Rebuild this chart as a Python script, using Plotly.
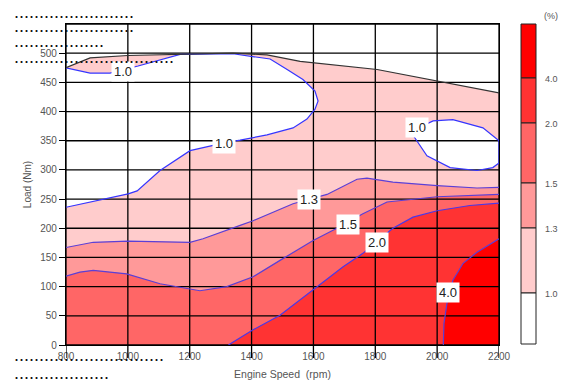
import plotly.graph_objects as go

# ---------------- data ----------------
rpm_ticks = [800, 1000, 1200, 1400, 1600, 1800, 2000, 2200]
load_ticks = [0, 50, 100, 150, 200, 250, 300, 350, 400, 450, 500]
load_top = 550

# maximum torque curve (upper limit of the map)
max_rpm = [800, 878, 1000, 1191, 1340, 1450, 1557, 1806, 2000, 2200]
max_load = [475, 492, 496, 498, 500, 497, 486, 472, 452, 432]

# 1.0 % contour – large closed island (upper-left)
c10a_rpm = [800, 888, 1001, 1030, 1104, 1201, 1308, 1363, 1450, 1534, 1579, 1605, 1615, 1605,
            1566, 1515, 1460, 1340, 1169, 1033, 942, 878, 800]
c10a_load = [236, 246, 259, 264, 299, 333, 346, 351, 360, 372, 387, 404, 418, 435,
             455, 472, 490, 499, 498, 478, 466, 466, 475]

# 1.0 % contour – island at the right edge
c10b_rpm = [1919, 1987, 2051, 2148, 2200, 2200, 2180, 2129, 2042, 1967, 1919]
c10b_load = [367, 384, 386, 372, 350, 312, 304, 299, 304, 324, 362]

# 1.3 % contour
c13_rpm = [800, 888, 1001, 1104, 1201, 1243, 1298, 1363, 1405, 1469, 1534, 1644, 1708, 1741,
           1773, 1806, 1857, 2000, 2129, 2200]
c13_load = [167, 176, 178, 177, 176, 182, 192, 205, 213, 227, 242, 258, 276, 284,
            286, 283, 279, 273, 269, 270]

# 1.5 % contour
c15_rpm = [800, 845, 888, 996, 1104, 1233, 1320, 1405, 1492, 1599, 1676, 1760, 1838, 2000, 2200]
c15_load = [118, 125, 128, 122, 105, 93, 100, 117, 145, 179, 200, 225, 245, 254, 258]

# 2.0 % contour
c20_rpm = [1325, 1405, 1492, 1599, 1696, 1760, 1857, 1922, 2000, 2106, 2200]
c20_load = [0, 26, 51, 94, 134, 157, 200, 219, 230, 239, 243]

# 4.0 % contour
c40_rpm = [2020, 2022, 2032, 2051, 2084, 2129, 2200]
c40_load = [0, 37, 72, 111, 140, 159, 182]

levels = ["1.0", "1.3", "1.5", "2.0", "4.0"]
level_colors = ["#ffffff", "#ffcccc", "#ff9999", "#ff6666", "#ff3333", "#ff0000"]

# contour label positions (rpm, load, text)
label_rpm = [984, 1311, 1935, 1586, 1712, 1805, 2035]
label_load = [469, 346, 372, 249, 206, 176, 90]
label_text = ["1.0", "1.0", "1.0", "1.3", "1.5", "2.0", "4.0"]

# ---------------- figure ----------------
fig = go.Figure()


def fill(xs, ys, color):
    fig.add_trace(go.Scatter(x=xs, y=ys, mode="lines", fill="toself", fillcolor=color,
                             line=dict(width=0), hoverinfo="skip", showlegend=False))


x0, x1 = rpm_ticks[0], rpm_ticks[-1]
# 1.0-1.3 band: whole area under maximum torque curve
fill(max_rpm + [x1, x0], max_load + [0, 0], level_colors[1])
# white islands (< 1.0)
fill(c10a_rpm, c10a_load, level_colors[0])
fill(c10b_rpm, c10b_load, level_colors[0])
# 1.3-1.5
fill(c13_rpm + [x1, x0], c13_load + [0, 0], level_colors[2])
# 1.5-2.0
fill(c15_rpm + [x1, x0], c15_load + [0, 0], level_colors[3])
# 2.0-4.0
fill(c20_rpm + [x1], c20_load + [0], level_colors[4])
# > 4.0
fill(c40_rpm + [x1], c40_load + [0], level_colors[5])

# grid lines above the fills
gx, gy = [], []
for v in rpm_ticks:
    gx += [v, v, None]
    gy += [0, load_top, None]
for v in load_ticks + [load_top]:
    gx += [x0, x1, None]
    gy += [v, v, None]
fig.add_trace(go.Scatter(x=gx, y=gy, mode="lines", line=dict(color="#000000", width=1.3),
                         hoverinfo="skip", showlegend=False))

# contour lines
blue = "#3535ff"
purple = "#5b3fd6"
for xs, ys, col in [(c10a_rpm, c10a_load, blue), (c10b_rpm, c10b_load, blue),
                    (c13_rpm, c13_load, purple), (c15_rpm, c15_load, purple),
                    (c20_rpm, c20_load, "#4a38e8"), (c40_rpm, c40_load, purple)]:
    fig.add_trace(go.Scatter(x=xs, y=ys, mode="lines", line=dict(color=col, width=1.2),
                             hoverinfo="skip", showlegend=False))

# maximum torque line
fig.add_trace(go.Scatter(x=max_rpm, y=max_load, mode="lines",
                         line=dict(color="#333333", width=1.2), hoverinfo="skip", showlegend=False))

# contour labels
for xr, yl, t in zip(label_rpm, label_load, label_text):
    fig.add_annotation(x=xr, y=yl, text=t, showarrow=False, bgcolor="#ffffff",
                       font=dict(family="Liberation Sans", size=13, color="#222222"), borderpad=2)

# ---------------- layout ----------------
# page margin is removed by the post script, so figure pixels = window pixels
W, H = 563, 381
PL, PR, PT, PB = 66, 499, 24, 345          # plot area in window pixels
L, T = PL, PT
R, B = W - PR, H - PB


def px(xp):
    return (xp - PL) / (PR - PL)


def py(yp):
    return (PB - yp) / (PB - PT)


tickfont = dict(family="Liberation Sans", size=10, color="#555555")
fig.update_layout(
    width=W, height=H, margin=dict(l=L, r=R, t=T, b=B, autoexpand=False),
    paper_bgcolor="#ffffff", plot_bgcolor="#ffffff",
    font=dict(family="Liberation Sans", size=10, color="#555555"),
    xaxis=dict(range=[x0, x1], tickvals=rpm_ticks, showgrid=False, zeroline=False,
               showline=True, mirror=True, linecolor="#000000", linewidth=1.3,
               ticks="outside", ticklen=2, tickcolor="rgba(0,0,0,0)", tickfont=tickfont,
               automargin=False,
               title=dict(text="Engine Speed  (rpm)", standoff=9,
                          font=dict(family="Liberation Sans", size=10.5, color="#555555"))),
    yaxis=dict(range=[0, load_top], tickvals=load_ticks, showgrid=False, zeroline=False,
               showline=True, mirror=True, linecolor="#000000", linewidth=1.3,
               ticks="outside", ticklen=6, tickcolor="#000000", tickfont=tickfont,
               automargin=False,
               title=dict(text="Load (Nm)", standoff=6,
                          font=dict(family="Liberation Sans", size=10, color="#555555"))),
)

# long x ticks that run down through the tick labels
for v in rpm_ticks:
    fig.add_shape(type="line", xref="x", yref="paper", x0=v, x1=v, y0=0, y1=py(358),
                  line=dict(color="#000000", width=1.3), layer="above")

# colour scale legend
cb_x0, cb_x1 = 521, 536
cb_edges = [24, 78, 123, 183, 228, 293, 344]
cb_fill = level_colors[::-1]
for i in range(6):
    fig.add_shape(type="rect", xref="paper", yref="paper",
                  x0=px(cb_x0), x1=px(cb_x1), y0=py(cb_edges[i + 1]), y1=py(cb_edges[i]),
                  fillcolor=cb_fill[i], line=dict(color="#222222", width=1))
for i, t in enumerate(levels[::-1]):
    fig.add_annotation(xref="paper", yref="paper", x=px(543), y=py(cb_edges[i + 1] + 1),
                       text=t, showarrow=False, xanchor="left", yanchor="middle",
                       font=dict(family="Liberation Sans", size=9, color="#555555"))
fig.add_annotation(xref="paper", yref="paper", x=px(542), y=py(16), text="(%)",
                   showarrow=False, xanchor="left", yanchor="middle",
                   font=dict(family="Liberation Sans", size=9, color="#555555"))

# dotted rows of the original page
dot_rows = [(12, 16, 24), (12, 31, 24), (12, 46, 18), (12, 62, 32), (12, 359, 30), (12, 377, 19)]
for xs, ys, n in dot_rows:
    fig.add_annotation(xref="paper", yref="paper", x=px(xs), y=py(ys - 4.5), text="." * n,
                       showarrow=False, xanchor="left", yanchor="middle",
                       font=dict(family="Liberation Sans", size=18, color="#111111"))

fig.write_html(
    "out.html",
    config={"displayModeBar": False},
    post_script="document.body.style.margin='0px';document.body.style.overflow='hidden';",
)
